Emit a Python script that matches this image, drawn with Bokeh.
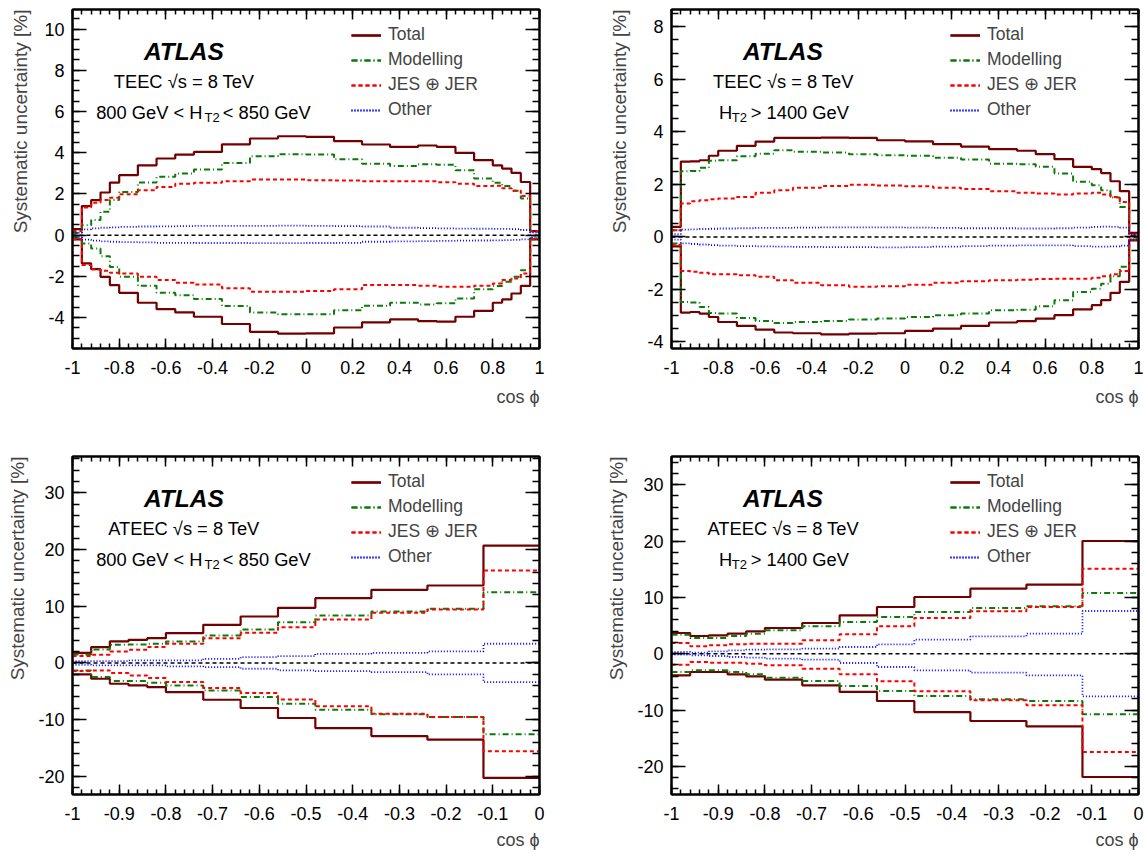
from bokeh.plotting import figure
from bokeh.layouts import column, row
from bokeh.models import (Range1d, LinearAxis, SingleIntervalTicker, Span, Label,
                          Legend, LegendItem, Title, CustomJSTickFormatter)
from bokeh.embed import file_html
from bokeh.resources import INLINE

FONT = "Liberation Sans"

# ---------------- data ----------------
teec_edges = [-1.0, -0.96, -0.92, -0.88, -0.84, -0.80, -0.72, -0.64, -0.56, -0.48, -0.36, -0.24, -0.12,
              0.0, 0.12, 0.24, 0.36, 0.48, 0.56, 0.64, 0.72, 0.80, 0.84, 0.88, 0.92, 0.96, 1.0]
ateec_edges = [-1.0, -0.96, -0.92, -0.88, -0.84, -0.80, -0.72, -0.64, -0.56, -0.48, -0.36, -0.24, -0.12, 0.0]

legend_labels = ["Total", "Modelling", "JES \u2295 JER", "Other"]
y_title = "Systematic uncertainty [%]"
x_title = "cos \u03d5"

# TEEC, 800 GeV < HT2 < 850 GeV
tl_total_up = [0.29, 1.41, 1.70, 2.07, 2.55, 2.91, 3.39, 3.72, 3.91, 4.04, 4.41, 4.69, 4.80,
               4.77, 4.56, 4.40, 4.28, 4.35, 4.28, 3.99, 3.64, 3.39, 3.23, 3.02, 2.58, 0.20]
tl_total_dn = [-0.20, -1.37, -1.65, -2.02, -2.42, -2.80, -3.28, -3.59, -3.75, -3.96, -4.31, -4.69, -4.78,
               -4.77, -4.48, -4.23, -4.09, -4.17, -4.20, -3.96, -3.67, -3.28, -3.12, -2.83, -2.46, -0.20]
tl_mod_up = [0.10, 0.48, 0.73, 1.13, 1.70, 2.10, 2.55, 2.83, 2.99, 3.18, 3.50, 3.83, 3.93,
             3.91, 3.68, 3.47, 3.36, 3.44, 3.42, 3.15, 2.75, 2.54, 2.38, 2.15, 1.78, 0.16]
tl_mod_dn = [-0.10, -0.40, -0.65, -1.02, -1.54, -2.02, -2.46, -2.80, -2.91, -3.10, -3.44, -3.75, -3.84,
             -3.84, -3.64, -3.43, -3.28, -3.36, -3.31, -3.07, -2.63, -2.47, -2.26, -2.02, -1.70, -0.15]
tl_jes_up = [0.20, 1.34, 1.57, 1.70, 1.81, 1.99, 2.18, 2.34, 2.50, 2.54, 2.62, 2.70, 2.70,
             2.67, 2.65, 2.62, 2.62, 2.62, 2.57, 2.50, 2.38, 2.40, 2.28, 2.15, 1.90, 0.20]
tl_jes_dn = [-0.20, -1.45, -1.66, -1.73, -1.83, -1.86, -2.02, -2.18, -2.31, -2.39, -2.58, -2.75, -2.75,
             -2.71, -2.63, -2.42, -2.42, -2.45, -2.50, -2.50, -2.45, -2.34, -2.18, -2.10, -1.86, -0.20]
tl_oth_up = [0.12, 0.28, 0.33, 0.36, 0.38, 0.40, 0.42, 0.43, 0.44, 0.45, 0.45, 0.45, 0.46,
             0.45, 0.44, 0.42, 0.36, 0.34, 0.33, 0.32, 0.31, 0.30, 0.30, 0.29, 0.25, 0.12]
tl_oth_dn = [-0.10, -0.22, -0.27, -0.30, -0.32, -0.34, -0.35, -0.37, -0.37, -0.38, -0.38, -0.39, -0.39,
             -0.38, -0.37, -0.32, -0.30, -0.29, -0.28, -0.27, -0.26, -0.25, -0.24, -0.23, -0.20, -0.10]

# TEEC, HT2 > 1400 GeV
tr_total_up = [0.38, 2.87, 2.88, 2.92, 3.09, 3.28, 3.47, 3.63, 3.77, 3.77, 3.78, 3.77, 3.68,
               3.64, 3.53, 3.44, 3.34, 3.28, 3.15, 2.96, 2.67, 2.58, 2.43, 2.12, 1.74, 0.15]
tr_total_dn = [-0.36, -2.88, -2.86, -2.92, -3.05, -3.24, -3.39, -3.53, -3.64, -3.67, -3.71, -3.68, -3.67,
               -3.58, -3.49, -3.39, -3.26, -3.21, -3.11, -2.98, -2.76, -2.60, -2.41, -2.13, -1.71, -0.13]
tr_mod_up = [0.25, 2.50, 2.51, 2.63, 2.90, 2.92, 3.07, 3.17, 3.30, 3.24, 3.21, 3.15, 3.11,
             3.09, 3.01, 2.95, 2.79, 2.77, 2.67, 2.41, 2.10, 1.97, 1.78, 1.50, 1.14, 0.06]
tr_mod_dn = [-0.25, -2.48, -2.50, -2.67, -2.90, -2.92, -3.09, -3.20, -3.28, -3.24, -3.20, -3.15, -3.11,
             -3.05, -2.98, -2.92, -2.79, -2.77, -2.64, -2.41, -2.10, -1.97, -1.78, -1.50, -1.14, -0.10]
tr_jes_up = [0.25, 1.27, 1.36, 1.40, 1.43, 1.46, 1.52, 1.68, 1.78, 1.87, 1.94, 1.99, 1.96,
             1.93, 1.87, 1.82, 1.74, 1.68, 1.65, 1.61, 1.65, 1.68, 1.61, 1.52, 1.33, 0.10]
tr_jes_dn = [-0.30, -1.30, -1.33, -1.37, -1.42, -1.42, -1.46, -1.52, -1.65, -1.75, -1.84, -1.90, -1.88,
             -1.82, -1.75, -1.69, -1.65, -1.63, -1.60, -1.59, -1.59, -1.56, -1.50, -1.42, -1.30, -0.10]
tr_oth_up = [0.10, 0.28, 0.29, 0.30, 0.31, 0.32, 0.33, 0.34, 0.34, 0.35, 0.36, 0.36, 0.36,
             0.35, 0.34, 0.33, 0.33, 0.32, 0.32, 0.33, 0.35, 0.38, 0.39, 0.38, 0.35, 0.10]
tr_oth_dn = [-0.10, -0.25, -0.27, -0.29, -0.31, -0.33, -0.35, -0.36, -0.37, -0.38, -0.39, -0.39, -0.40,
             -0.39, -0.37, -0.35, -0.33, -0.32, -0.32, -0.32, -0.35, -0.37, -0.37, -0.36, -0.33, -0.10]

# ATEEC, 800 GeV < HT2 < 850 GeV
bl_total_up = [1.79, 2.79, 3.79, 4.08, 4.37, 5.26, 6.72, 8.19, 9.72, 11.42, 12.89, 13.65, 20.70]
bl_total_dn = [-2.03, -2.79, -3.67, -3.96, -4.26, -5.14, -6.49, -7.95, -9.71, -11.48, -12.89, -13.53, -20.28]
bl_mod_up = [1.50, 2.38, 3.20, 3.26, 3.38, 3.79, 4.84, 5.90, 7.19, 8.37, 9.07, 9.54, 12.48]
bl_mod_dn = [-1.32, -2.50, -3.20, -3.20, -3.49, -3.96, -4.84, -6.02, -7.19, -8.25, -9.07, -9.54, -12.59]
bl_jes_up = [1.20, 1.44, 2.03, 2.32, 2.79, 3.38, 4.37, 5.31, 6.31, 7.66, 8.84, 9.43, 16.29]
bl_jes_dn = [-1.44, -1.32, -1.79, -2.20, -2.67, -3.38, -4.43, -5.31, -6.43, -7.66, -8.95, -9.54, -15.59]
bl_oth_up = [0.32, 0.32, 0.32, 0.44, 0.44, 0.44, 0.73, 1.03, 1.20, 1.61, 1.79, 2.03, 3.38]
bl_oth_dn = [-0.32, -0.44, -0.44, -0.44, -0.44, -0.62, -0.73, -1.03, -1.32, -1.44, -1.61, -2.03, -3.38]

# ATEEC, HT2 > 1400 GeV
br_total_up = [3.67, 3.14, 3.25, 3.55, 3.96, 4.56, 5.44, 6.80, 8.28, 10.06, 11.54, 12.25, 20.00]
br_total_dn = [-3.85, -3.25, -3.25, -3.67, -4.02, -4.62, -5.62, -6.80, -8.40, -10.36, -11.95, -12.90, -21.89]
br_mod_up = [3.37, 2.78, 2.78, 3.14, 3.55, 4.14, 4.85, 5.62, 6.51, 7.40, 8.11, 8.40, 10.77]
br_mod_dn = [-3.25, -2.96, -2.96, -3.25, -3.67, -4.26, -4.85, -5.74, -6.63, -7.51, -8.11, -8.40, -10.77]
br_jes_up = [1.89, 1.30, 1.48, 1.66, 1.78, 1.78, 2.37, 3.43, 4.85, 6.33, 7.51, 8.28, 15.09]
br_jes_dn = [-1.95, -1.48, -1.60, -1.60, -1.78, -2.07, -2.66, -3.67, -4.91, -6.69, -8.28, -9.17, -17.46]
br_oth_up = [0.30, 0.18, 0.41, 0.59, 0.71, 0.77, 0.89, 1.18, 1.66, 2.49, 3.08, 3.55, 7.57]
br_oth_dn = [-0.18, -0.30, -0.41, -0.59, -0.71, -0.89, -1.07, -1.66, -2.37, -2.96, -3.37, -3.85, -7.57]

# ---------------- styles ----------------
STYLES = [
    dict(line_color="#720000", line_width=2.2, line_dash="solid"),
    dict(line_color="#0b7a0b", line_width=2.0, line_dash="6 3 1 3"),
    dict(line_color="#ff0000", line_width=2.0, line_dash="4 3"),
    dict(line_color="#0000ff", line_width=1.8, line_dash="1 2"),
]

FW = 467
YT_SIZE = 19
YT_H = 1.117 * YT_SIZE  # text box height of the rotated y title


def fmt_x():
    return CustomJSTickFormatter(code="return String(Math.round(tick*10)/10 + 0);")


def fmt_y():
    return CustomJSTickFormatter(code="return String(Math.round(tick) + 0);")


def style_axis(ax, major_in, minor_in):
    ax.major_tick_in = major_in
    ax.major_tick_out = 0
    ax.minor_tick_in = minor_in
    ax.minor_tick_out = 0
    ax.major_tick_line_width = 1.5
    ax.minor_tick_line_width = 1.5
    ax.major_tick_line_color = "black"
    ax.minor_tick_line_color = "black"
    ax.axis_line_width = 2
    ax.axis_line_color = "black"
    ax.major_label_text_font = FONT
    ax.major_label_text_font_size = "18px"
    ax.major_label_text_color = "black"


def make_panel(edges, series, xr, yr, xint, yint, yminor, width, height, borders, texts,
               axis_w, yt_left, xt_standoff):
    bl, br, bt, bb = borders
    fh = height - bt - bb
    p = figure(width=width, height=height, x_range=Range1d(*xr), y_range=Range1d(*yr),
               output_backend="svg", toolbar_location=None, title_location=None,
               min_border_left=bl, min_border_right=br, min_border_top=bt, min_border_bottom=bb)
    p.xgrid.visible = False
    p.ygrid.visible = False
    p.outline_line_color = "black"
    p.outline_line_width = 2
    p.background_fill_color = "white"
    p.border_fill_color = "white"

    xt = SingleIntervalTicker(interval=xint, num_minor_ticks=5)
    yt = SingleIntervalTicker(interval=yint, num_minor_ticks=yminor)
    xa = p.xaxis[0]
    ya = p.yaxis[0]
    xa.ticker = xt
    ya.ticker = yt
    xa.formatter = fmt_x()
    ya.formatter = fmt_y()
    style_axis(xa, 10, 5)
    style_axis(ya, 14, 7)
    xa.major_label_standoff = 12
    ya.major_label_standoff = 8

    for side, tk, mi, ni in (("above", xt, 10, 5), ("right", yt, 14, 7)):
        ax = LinearAxis(ticker=tk, formatter=CustomJSTickFormatter(code="return '';"))
        style_axis(ax, mi, ni)
        ax.major_label_text_font_size = "0px"
        ax.major_label_standoff = 0
        p.add_layout(ax, side)

    items = []
    for label, (up, dn), st in zip(legend_labels, series, STYLES):
        r1 = p.step(x=edges, y=list(up) + [up[-1]], mode="after", **st)
        r2 = p.step(x=edges, y=list(dn) + [dn[-1]], mode="after", **st)
        items.append(LegendItem(label=label, renderers=[r1, r2]))

    p.add_layout(Span(location=0, dimension="width", line_color="black",
                      line_dash="4 3", line_width=1.5))

    leg_h = 4 * 22 + 3 * 3
    legend = Legend(items=items, location=(279, fh - 14.7 - leg_h),
                    label_text_font=FONT, label_text_font_size="17.5px",
                    glyph_width=30, glyph_height=22, label_height=22, spacing=3,
                    padding=0, margin=0, label_standoff=7,
                    border_line_color=None, background_fill_alpha=0)
    p.add_layout(legend)

    def dx(px):
        return xr[0] + px / FW * (xr[1] - xr[0])

    def dy(py):
        return yr[1] - py / fh * (yr[1] - yr[0])

    for (px, py, txt, size, style) in texts:
        p.add_layout(Label(x=dx(px), y=dy(py), text=txt, text_font=FONT, text_font_size=f"{size}px",
                           text_font_style=style, text_baseline="alphabetic", text_align="left",
                           text_color="black"))

    # y title: text box top wanted at yt_left px from the figure's left edge
    dist = bl - yt_left
    s = 2 * (dist - axis_w - YT_H - 2)
    s_max = bl - axis_w - YT_H - 2 - 3.5
    s = max(0.0, min(s, s_max))
    p.add_layout(Title(text=y_title, align="right", vertical_align="top", text_font=FONT,
                       text_font_size=f"{YT_SIZE}px", text_font_style="normal", standoff=s), "left")
    p.add_layout(Title(text=x_title, align="right", text_font=FONT,
                       text_font_size="18px", text_font_style="normal", standoff=xt_standoff), "below")
    return p


def texts_range(line2, x2, ht_parts):
    t = [(71.5, 42.4, "ATLAS", 24.5, "bold italic"),
         (x2, 72.4, line2, 18.3, "normal")]
    for (px, dyy, txt, size) in ht_parts:
        t.append((px, 103 + dyy, txt, size, "normal"))
    return t


ht_low = [(23.7, 0, "800 GeV < H", 18.3), (132, 5, "T2", 13), (150.3, 0, "< 850 GeV", 18.3)]
ht_high = [(47.6, 0, "H", 18.3), (60.3, 5, "T2", 13), (79.3, 0, "> 1400 GeV", 18.3)]

# page: top row 448 px tall (frames 9..348), bottom row 407 px tall (frames 456..794)
# left figures 595 px wide (frame 72..539), right figures 549 px wide (frame 671..1138)
p1 = make_panel(teec_edges,
                [(tl_total_up, tl_total_dn), (tl_mod_up, tl_mod_dn), (tl_jes_up, tl_jes_dn), (tl_oth_up, tl_oth_dn)],
                (-1, 1), (-5.5, 10.95), 0.2, 2, 4, 595, 448, (72, 56, 9, 100),
                texts_range("TEEC \u221as = 8 TeV", 41.3, ht_low), 28, 8.1, 17)
p2 = make_panel(teec_edges,
                [(tr_total_up, tr_total_dn), (tr_mod_up, tr_mod_dn), (tr_jes_up, tr_jes_dn), (tr_oth_up, tr_oth_dn)],
                (-1, 1), (-4.25, 8.66), 0.2, 2, 4, 549, 448, (76, 6, 9, 100),
                texts_range("TEEC \u221as = 8 TeV", 41.6, ht_high), 24, 13.1, 17)
p3 = make_panel(ateec_edges,
                [(bl_total_up, bl_total_dn), (bl_mod_up, bl_mod_dn), (bl_jes_up, bl_jes_dn), (bl_oth_up, bl_oth_dn)],
                (-1, 0), (-23.2, 36.4), 0.1, 10, 5, 595, 407, (72, 56, 8, 61),
                texts_range("ATEEC \u221as = 8 TeV", 35.7, ht_low), 34, 8.1, 11)
p4 = make_panel(ateec_edges,
                [(br_total_up, br_total_dn), (br_mod_up, br_mod_dn), (br_jes_up, br_jes_dn), (br_oth_up, br_oth_dn)],
                (-1, 0), (-25.0, 35.0), 0.1, 10, 5, 549, 407, (76, 6, 8, 61),
                texts_range("ATEEC \u221as = 8 TeV", 36.0, ht_high), 34, 13.1, 11)

layout = column(row(p1, p2), row(p3, p4))
open("out.html", "w").write(file_html(layout, INLINE))
